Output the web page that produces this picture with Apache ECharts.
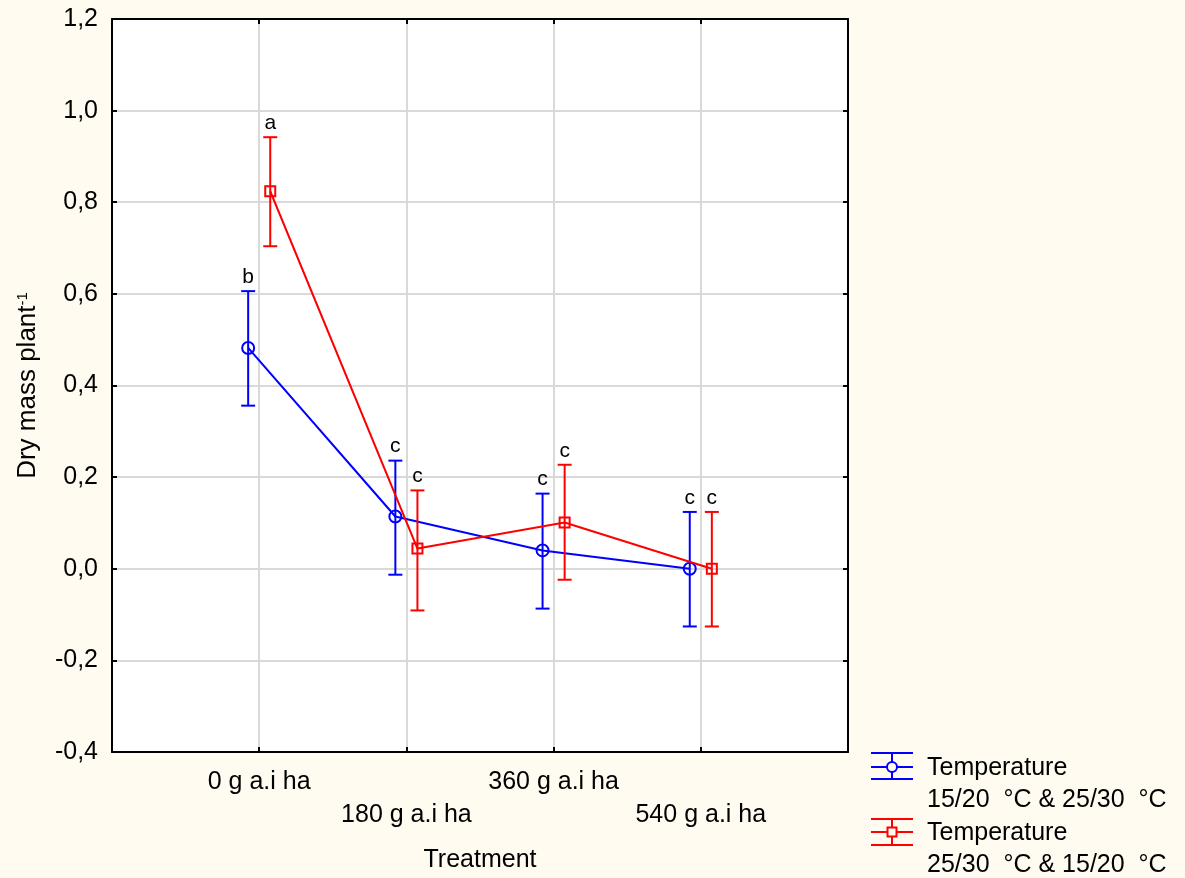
<!DOCTYPE html>
<html>
<head>
<meta charset="utf-8">
<script src="https://cdn.jsdelivr.net/npm/echarts@6/dist/echarts.min.js"></script>
<style>
html,body{margin:0;padding:0;background:#FFFBF0;}
#chart{width:1185px;height:878px;}
</style>
</head>
<body>
<div id="chart"></div>
<script>
// ---- data ----
const categories = ['0 g a.i ha', '180 g a.i ha', '360 g a.i ha', '540 g a.i ha'];
const blueName = 'Temperature\n15/20  °C & 25/30  °C';
const redName = 'Temperature\n25/30  °C & 15/20  °C';
const blueMean = [0.482, 0.114, 0.040, 0.000];
const blueLow = [0.356, -0.013, -0.087, -0.126];
const blueHigh = [0.606, 0.236, 0.164, 0.124];
const blueLetters = ['b', 'c', 'c', 'c'];
const redMean = [0.824, 0.044, 0.101, 0.000];
const redLow = [0.704, -0.091, -0.024, -0.126];
const redHigh = [0.942, 0.171, 0.227, 0.124];
const redLetters = ['a', 'c', 'c', 'c'];
const yMin = -0.4, yMax = 1.2, yStep = 0.2;

// ---- layout / style ----
const OFF = 0.075;
const FONT = 'Liberation Sans, Arial, sans-serif';
const BLUE = '#0000FF', RED = '#FF0000';
const FS = 25;

function pts(mean, sign) { return mean.map((v, i) => [i + 1 + sign * OFF, v]); }
function bars(low, high, sign) { return low.map((v, i) => [i + 1 + sign * OFF, v, high[i]]); }

function errRender(color, letters) {
  return function (params, api) {
    const x = api.value(0);
    const lo = api.coord([x, api.value(1)]);
    const hi = api.coord([x, api.value(2)]);
    const hw = 7;
    return {
      type: 'group',
      children: [
        { type: 'line', shape: { x1: lo[0], y1: lo[1], x2: hi[0], y2: hi[1] }, style: { stroke: color, lineWidth: 2 } },
        { type: 'line', shape: { x1: lo[0] - hw, y1: lo[1], x2: lo[0] + hw, y2: lo[1] }, style: { stroke: color, lineWidth: 2 } },
        { type: 'line', shape: { x1: hi[0] - hw, y1: hi[1], x2: hi[0] + hw, y2: hi[1] }, style: { stroke: color, lineWidth: 2 } },
        { type: 'text', x: hi[0], y: hi[1] - 14, style: { text: letters[params.dataIndex], fill: '#000', font: '21px ' + FONT, align: 'center', verticalAlign: 'middle' } }
      ]
    };
  };
}

const chart = echarts.init(document.getElementById('chart'), null, { renderer: 'canvas' });
const axisCommon = {
  type: 'value', min: 0, max: 5, interval: 1,
  axisLine: { show: true, onZero: false, lineStyle: { color: '#000', width: 2 } },
  axisTick: { show: true, inside: true, length: 5, lineStyle: { color: '#000', width: 2 } }
};
const yCommon = {
  type: 'value', min: yMin, max: yMax, interval: yStep,
  axisLine: { show: true, onZero: false, lineStyle: { color: '#000', width: 2 } },
  axisTick: { show: true, inside: true, length: 5, lineStyle: { color: '#000', width: 2 } }
};

chart.setOption({
  backgroundColor: '#FFFBF0',
  animation: false,
  textStyle: { fontFamily: FONT },
  grid: { left: 112, right: 337, top: 19, bottom: 126, show: true, backgroundColor: '#ffffff', borderWidth: 0, containLabel: false, outerBoundsMode: 'none' },
  xAxis: [
    Object.assign({}, axisCommon, {
      position: 'bottom',
      name: 'Treatment', nameLocation: 'middle', nameGap: 96,
      nameTextStyle: { fontSize: FS, color: '#000', fontFamily: FONT },
      splitLine: { show: true, lineStyle: { color: '#D9D9D9', width: 2 } },
      axisLabel: {
        show: true, margin: 14, fontSize: FS, color: '#000', fontFamily: FONT, lineHeight: 33,
        formatter: function (v) {
          const i = Math.round(v) - 1;
          if (i < 0 || i >= categories.length) return '';
          return i % 2 === 0 ? categories[i] : '\n' + categories[i];
        }
      }
    }),
    Object.assign({}, axisCommon, {
      position: 'top', axisLabel: { show: false }, splitLine: { show: false }
    })
  ],
  yAxis: [
    Object.assign({}, yCommon, {
      position: 'left',
      name: 'Dry mass plant{sup|-1}', nameLocation: 'middle', nameGap: 70,
      nameTextStyle: {
        fontSize: 26, color: '#000', fontFamily: FONT,
        rich: { sup: { fontSize: 15, color: '#000', fontFamily: FONT, verticalAlign: 'top', lineHeight: 15, padding: [0, 0, 14, 0] } }
      },
      splitLine: { show: true, lineStyle: { color: '#D9D9D9', width: 2 } },
      axisLabel: {
        show: true, margin: 14, fontSize: FS, color: '#000', fontFamily: FONT,
        formatter: function (v) {
          if (Math.abs(v) < 1e-9) v = 0;
          return v.toFixed(1).replace('.', ',');
        }
      }
    }),
    Object.assign({}, yCommon, {
      position: 'right', axisLabel: { show: false }, splitLine: { show: false }
    })
  ],
  series: [
    {
      name: blueName, type: 'line', data: pts(blueMean, -1), z: 3,
      symbol: 'circle', symbolSize: 12,
      lineStyle: { color: BLUE, width: 2 },
      itemStyle: { color: 'rgba(0,0,0,0)', borderColor: BLUE, borderWidth: 2 }
    },
    {
      name: blueName + ' err', type: 'custom', data: bars(blueLow, blueHigh, -1), z: 4,
      renderItem: errRender(BLUE, blueLetters)
    },
    {
      name: redName, type: 'line', data: pts(redMean, 1), z: 5,
      symbol: 'rect', symbolSize: 10,
      lineStyle: { color: RED, width: 2 },
      itemStyle: { color: 'rgba(0,0,0,0)', borderColor: RED, borderWidth: 2 }
    },
    {
      name: redName + ' err', type: 'custom', data: bars(redLow, redHigh, 1), z: 6,
      renderItem: errRender(RED, redLetters)
    }
  ],
  graphic: [
    // legend item 1
    { type: 'line', shape: { x1: 871, y1: 753, x2: 913, y2: 753 }, style: { stroke: BLUE, lineWidth: 2 } },
    { type: 'line', shape: { x1: 871, y1: 767, x2: 913, y2: 767 }, style: { stroke: BLUE, lineWidth: 2 } },
    { type: 'line', shape: { x1: 871, y1: 779, x2: 913, y2: 779 }, style: { stroke: BLUE, lineWidth: 2 } },
    { type: 'line', shape: { x1: 892, y1: 753, x2: 892, y2: 779 }, style: { stroke: BLUE, lineWidth: 2 } },
    { type: 'circle', shape: { cx: 892, cy: 767, r: 5 }, style: { stroke: BLUE, fill: '#FFFBF0', lineWidth: 2 } },
    { type: 'text', left: 927, top: 752, style: { text: blueName, fill: '#000', font: FS + 'px ' + FONT, lineHeight: 32 } },
    // legend item 2
    { type: 'line', shape: { x1: 871, y1: 819, x2: 913, y2: 819 }, style: { stroke: RED, lineWidth: 2 } },
    { type: 'line', shape: { x1: 871, y1: 832, x2: 913, y2: 832 }, style: { stroke: RED, lineWidth: 2 } },
    { type: 'line', shape: { x1: 871, y1: 845, x2: 913, y2: 845 }, style: { stroke: RED, lineWidth: 2 } },
    { type: 'line', shape: { x1: 892, y1: 819, x2: 892, y2: 845 }, style: { stroke: RED, lineWidth: 2 } },
    { type: 'rect', shape: { x: 887.5, y: 827.5, width: 9, height: 9 }, style: { stroke: RED, fill: '#FFFBF0', lineWidth: 2 } },
    { type: 'text', left: 927, top: 817, style: { text: redName, fill: '#000', font: FS + 'px ' + FONT, lineHeight: 32 } }
  ]
});
</script>
</body>
</html>
